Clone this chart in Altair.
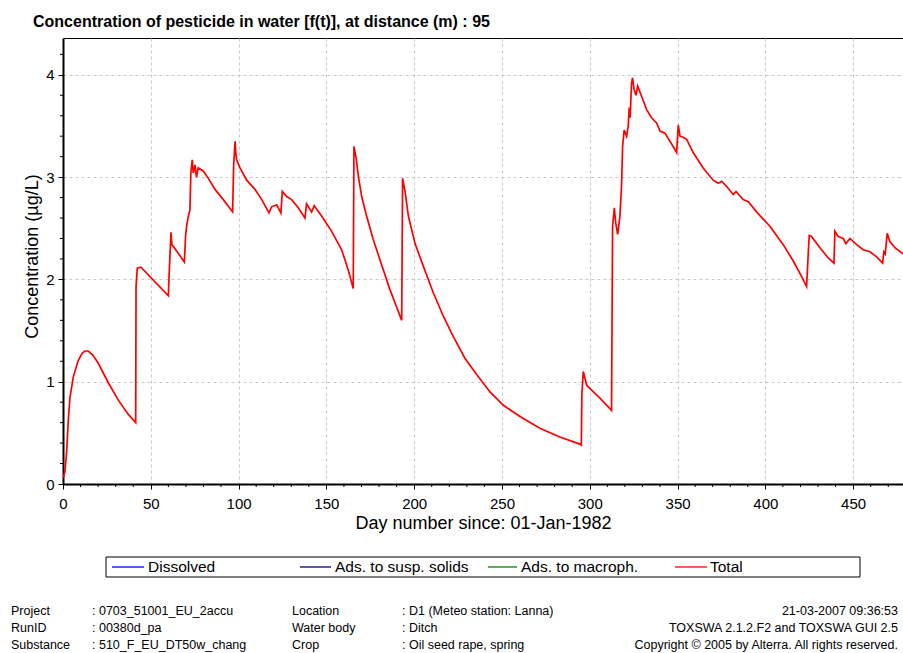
import altair as alt
import pandas as pd

# ---- data ----
days = [0.0, 1.1, 2.1, 3.0, 4.0, 5.9, 8.7, 11.0, 12.5, 14.4, 17.0, 20.1, 25.8, 31.5, 37.2, 41.4,
        41.6, 42.3, 44.4, 60.0, 60.4, 61.5, 62.0, 63.4, 69.1, 69.8, 70.4, 71.4, 72.3, 72.8,
        73.6, 74.2, 75.2, 76.0, 77.0, 79.9, 82.7, 86.6, 91.3, 96.6, 97.2, 98.0, 98.5, 98.9,
        100.8, 104.6, 109.3, 113.2, 117.3, 118.8, 121.7, 124.1, 124.9, 127.4, 130.2, 134.0,
        137.8, 138.7, 141.6, 143.1, 147.3, 153.0, 158.7, 162.5, 165.3, 165.7, 166.9, 168.2,
        170.1, 172.9, 176.7, 181.5, 186.2, 190.0, 192.9, 193.4, 194.8, 196.7, 200.5, 205.2,
        210.9, 216.6, 222.3, 228.9, 235.6, 243.2, 250.8, 260.3, 271.6, 283.0, 294.4, 295.2,
        295.5, 296.3, 298.2, 299.1, 305.8, 312.4, 313.0, 314.0, 314.8, 315.9, 317.2, 318.1,
        318.7, 319.6, 321.0, 321.9, 322.5, 323.0, 323.8, 324.4, 325.2, 326.3, 327.3, 329.5,
        332.4, 335.2, 338.1, 340.0, 342.8, 345.7, 349.5, 350.4, 351.4, 353.3, 355.2, 358.9,
        364.6, 370.3, 373.2, 375.1, 377.9, 381.7, 383.3, 387.4, 390.3, 395.0, 402.6, 410.2,
        415.9, 420.6, 423.5, 424.3, 425.0, 426.3, 431.1, 435.8, 439.1, 439.6, 441.5, 444.4,
        445.9, 448.2, 452.0, 455.8, 459.6, 463.4, 466.8, 467.5, 468.3, 469.4, 470.9, 473.8,
        478.4]
total = [0.06, 0.12, 0.32, 0.62, 0.85, 1.05, 1.21, 1.28, 1.30, 1.30, 1.26, 1.18, 0.99, 0.82, 0.68, 0.60,
         1.93, 2.11, 2.12, 1.84, 2.03, 2.46, 2.34, 2.31, 2.17, 2.42, 2.52, 2.62, 2.68, 3.04,
         3.17, 3.04, 3.12, 3.00, 3.09, 3.06, 2.99, 2.88, 2.78, 2.66, 3.12, 3.35, 3.22, 3.17,
         3.09, 2.97, 2.88, 2.78, 2.65, 2.71, 2.73, 2.65, 2.86, 2.81, 2.78, 2.70,
         2.60, 2.74, 2.66, 2.72, 2.62, 2.47, 2.29, 2.09, 1.91, 3.30, 3.19, 3.01,
         2.81, 2.62, 2.39, 2.14, 1.90, 1.73, 1.60, 2.99, 2.86, 2.62, 2.35, 2.13,
         1.87, 1.64, 1.44, 1.23, 1.07, 0.90, 0.77, 0.66, 0.545, 0.46, 0.39, 0.38,
         0.87, 1.10, 0.97, 0.95, 0.84, 0.72, 2.52, 2.70, 2.55, 2.44, 2.62, 2.91,
         3.30, 3.46, 3.40, 3.50, 3.68, 3.58, 3.92, 3.97, 3.86, 3.80, 3.89, 3.79,
         3.66, 3.58, 3.53, 3.45, 3.43, 3.35, 3.24, 3.51, 3.40, 3.39, 3.37, 3.24,
         3.09, 2.97, 2.94, 2.96, 2.91, 2.83, 2.86, 2.78, 2.76, 2.66, 2.52, 2.34,
         2.18, 2.03, 1.93, 2.21, 2.43, 2.42, 2.31, 2.21, 2.16, 2.47, 2.42, 2.40,
         2.35, 2.40, 2.34, 2.29, 2.27, 2.22, 2.16, 2.27, 2.25, 2.45, 2.37, 2.31,
         2.25]

x_major = [0, 50, 100, 150, 200, 250, 300, 350, 400, 450]
y_major = [0, 1, 2, 3, 4]
x_minor = [10, 20, 30, 40, 60, 70, 80, 90, 110, 120, 130, 140, 160, 170, 180, 190, 210, 220, 230, 240,
           260, 270, 280, 290, 310, 320, 330, 340, 360, 370, 380, 390, 410, 420, 430, 440, 460, 470]
y_minor = [0.2, 0.4, 0.6, 0.8, 1.2, 1.4, 1.6, 1.8, 2.2, 2.4, 2.6, 2.8, 3.2, 3.4, 3.6, 3.8, 4.2]

legend_labels = ["Dissolved", "Ads. to susp. solids", "Ads. to macroph.", "Total"]
legend_colors = ["#0000ff", "#000080", "#008000", "#ff0000"]

footer_keys1 = ["Project", "RunID", "Substance"]
footer_vals1 = [": 0703_51001_EU_2accu", ": 00380d_pa", ": 510_F_EU_DT50w_chang"]
footer_keys2 = ["Location", "Water body", "Crop"]
footer_vals2 = [": D1 (Meteo station: Lanna)", ": Ditch", ": Oil seed rape, spring"]
footer_right = ["21-03-2007 09:36:53", "TOXSWA 2.1.2.F2 and TOXSWA GUI 2.5",
                "Copyright \u00a9 2005 by Alterra. All rights reserved."]

title_text = "Concentration of pesticide in water [f(t)], at distance (m) : 95"

# ---- layout ----
W, H = 840, 446
SANS = "Liberation Sans, Arial, sans-serif"

df = pd.DataFrame({"day": days, "conc": total})
xscale = alt.Scale(domain=[0, 478.4], nice=False, zero=False)
yscale = alt.Scale(domain=[0, 4.36], nice=False)

common_axis = dict(
    grid=True, gridColor="#c8c8c8", gridDash=[3, 3], gridWidth=1,
    domainColor="black", domainWidth=2, tickColor="black", tickSize=5, tickWidth=1,
    labelFont=SANS, labelFontSize=15, labelColor="black", labelFlush=False, labelOverlap=False,
    titleFont=SANS, titleFontSize=18, titleFontWeight="normal", titleColor="black",
)

x_axis = alt.Axis(values=x_major, title="Day number since: 01-Jan-1982",
                  labelBaseline="alphabetic", labelPadding=19,
                  titleX=W / 2, titleY=44, titleBaseline="alphabetic", titleAlign="center",
                  **common_axis)
y_axis = alt.Axis(values=y_major, title="Concentration (\u00b5g/L)",
                  labelPadding=4, labelBaseline="middle",
                  titleX=-31, titleY=218, titleBaseline="middle", titleAlign="center",
                  titleAngle=270, **common_axis)

line = alt.Chart(df).mark_line(color="#ff0000", strokeWidth=1.7, clip=True).encode(
    x=alt.X("day:Q", scale=xscale, axis=x_axis),
    y=alt.Y("conc:Q", scale=yscale, axis=y_axis),
)

minor_x = alt.Chart(pd.DataFrame({"day": x_minor})).mark_rule(color="black", strokeWidth=1).encode(
    x=alt.X("day:Q", scale=xscale, axis=x_axis), y=alt.value(H), y2=alt.value(H + 3))
minor_y = alt.Chart(pd.DataFrame({"conc": y_minor})).mark_rule(color="black", strokeWidth=1).encode(
    y=alt.Y("conc:Q", scale=yscale, axis=y_axis), x=alt.value(-3), x2=alt.value(0))

one = pd.DataFrame({"t": [""]})


def txt(s, x, y, size, font=SANS, align="left", weight="normal"):
    return alt.Chart(pd.DataFrame({"t": [s]})).mark_text(
        align=align, baseline="alphabetic", font=font, fontSize=size, fontWeight=weight, color="black"
    ).encode(x=alt.value(x), y=alt.value(y), text="t:N")


layers = [line, minor_x, minor_y]

# title
layers.append(txt(title_text, -30, -11, 16, weight="bold"))

# legend box
layers.append(alt.Chart(one).mark_rect(fill="white", stroke="black", strokeWidth=1).encode(
    x=alt.value(43), x2=alt.value(797), y=alt.value(519), y2=alt.value(539)))
leg_line_x = [(49, 81), (237, 268), (425, 454), (612, 644)]
leg_text_x = [85, 272, 458, 647]
for lab, col, (a, b), tx in zip(legend_labels, legend_colors, leg_line_x, leg_text_x):
    layers.append(alt.Chart(one).mark_rule(color=col, strokeWidth=1.3).encode(
        x=alt.value(a), x2=alt.value(b), y=alt.value(529)))
    layers.append(alt.Chart(pd.DataFrame({"t": [lab]})).mark_text(
        align="left", baseline="middle", font=SANS, fontSize=15.5, color="black"
    ).encode(x=alt.value(tx), y=alt.value(529), text="t:N"))

# footer
rows_y = [576.5, 593.5, 610.5]
for i, yy in enumerate(rows_y):
    layers.append(txt(footer_keys1[i], -52, yy, 12.5))
    layers.append(txt(footer_vals1[i], 29, yy, 12.5))
    layers.append(txt(footer_keys2[i], 229, yy, 12.5))
    layers.append(txt(footer_vals2[i], 339, yy, 12.5))
    layers.append(txt(footer_right[i], 835, yy, 12.5, align="right"))

chart = alt.layer(*layers).properties(
    width=W, height=H,
    autosize=alt.AutoSizeParams(type="none"),
    padding={"left": 63, "top": 38, "right": 0, "bottom": 169},
    background="white",
).configure_view(stroke="black", strokeWidth=1)

chart.save("out.html", embed_options={"renderer": "svg", "actions": False})
